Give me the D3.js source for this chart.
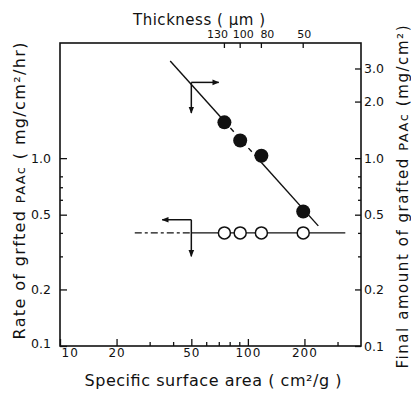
<!DOCTYPE html>
<html><head><meta charset="utf-8">
<script src="https://cdn.jsdelivr.net/npm/d3@7"></script>
<style>
html,body{margin:0;padding:0;background:#fff;}
text{font-family:"DejaVu Sans",sans-serif;fill:#111;}
</style></head>
<body>
<svg id="c" width="411" height="393"></svg>
<script>
// ---- data ----
const surfaceArea = [75, 91, 118, 197];          // cm2/g
const thickness   = [130, 100, 80, 50];          // um (top axis labels)
const finalAmount = [1.55, 1.24, 1.03, 0.52];    // mg/cm2 (filled, right axis)
const graftRate   = [0.40, 0.40, 0.40, 0.40];    // mg/cm2/hr (open, left axis)
const fitLine     = [[38.6, 3.29], [237, 0.436]];// regression through filled points
const rateLine    = [[25, 0.40], [330, 0.40]];   // horizontal line through open points
const xTicks      = [10, 20, 50, 100, 200];
const xMinor      = [30, 40, 60, 70, 80, 90, 300];
const yLeftTicks  = [0.1, 0.2, 0.5, 1.0];
const yRightTicks = [0.1, 0.2, 0.5, 1.0, 2.0, 3.0];
const yMinor      = [0.3, 0.4, 0.6, 0.7, 0.8];
const arrowFilled = {corner: [50, 2.53], right: 70, down: 1.74};
const arrowOpen   = {corner: [50, 0.47], left: 35, down: 0.30};

const svg = d3.select("#c");
const L = 60, R = 361, T = 43, B = 346;
const x = d3.scaleLog().domain([10, 400]).range([L, R]);
const y = d3.scaleLog().domain([0.1, 4.1]).range([B, T]);
const yR = d3.scaleLog().domain([0.1, 4.1]).range([B, T]);

const defs = svg.append("defs");
defs.append("marker").attr("id","ah").attr("viewBox","0 0 10 10")
  .attr("refX",9).attr("refY",5).attr("markerWidth",7).attr("markerHeight",7)
  .attr("markerUnits","userSpaceOnUse").attr("orient","auto")
  .append("path").attr("d","M0,1 L10,5 L0,9 Z").attr("fill","#111");

// frame
svg.append("rect").attr("x",L).attr("y",T).attr("width",R-L).attr("height",B-T)
  .attr("fill","none").attr("stroke","#111").attr("stroke-width",1.6);

// bottom axis (ticks inside)
const gB = svg.append("g").attr("transform",`translate(0,${B})`);
gB.call(d3.axisBottom(x).tickValues(xTicks).tickSizeInner(-7).tickSizeOuter(0).tickFormat(d3.format("d")));
gB.append("g").call(d3.axisBottom(x).tickValues(xMinor).tickSizeInner(-4).tickSizeOuter(0).tickFormat(""));
gB.selectAll(".domain").remove();
gB.selectAll("line").attr("stroke","#111").attr("stroke-width",1.3);
gB.selectAll("text").attr("font-size",12).attr("letter-spacing",1).attr("dy",0).attr("y",11);
gB.selectAll(".tick text").filter(d=>d===10).attr("text-anchor","start").attr("x",1);

// left axis
const gL = svg.append("g").attr("transform",`translate(${L},0)`);
gL.call(d3.axisLeft(y).tickValues(yLeftTicks).tickSizeInner(-7).tickSizeOuter(0).tickFormat(d3.format(".1f")));
gL.append("g").call(d3.axisLeft(y).tickValues(yMinor).tickSizeInner(-3).tickSizeOuter(0).tickFormat(""));
gL.selectAll(".domain").remove();
gL.selectAll("line").attr("stroke","#111").attr("stroke-width",1.3);
gL.selectAll("text").attr("font-size",12.5).attr("x",-9);
gL.selectAll(".tick text").filter(d=>d===0.1).attr("dy","0.1em");

// right axis
const gR = svg.append("g").attr("transform",`translate(${R},0)`);
gR.call(d3.axisRight(yR).tickValues(yRightTicks).tickSizeInner(-6).tickSizeOuter(0).tickFormat(d3.format(".1f")));
gR.append("g").call(d3.axisRight(yR).tickValues(yMinor).tickSizeInner(-3).tickSizeOuter(0).tickFormat(""));
gR.selectAll(".domain").remove();
gR.selectAll("line").attr("stroke","#111").attr("stroke-width",1.3);
gR.selectAll("text").attr("font-size",12.5).attr("x",3);

// top axis: thickness ticks at the surface areas of the samples
const gT = svg.append("g").attr("transform",`translate(0,${T})`);
const labelShift = [-7, 3, 6, 1];
gT.selectAll("line").data(surfaceArea).join("line")
  .attr("x1",d=>x(d)).attr("x2",d=>x(d)).attr("y1",0).attr("y2",5)
  .attr("stroke","#111").attr("stroke-width",1.3);
gT.selectAll("text").data(thickness).join("text")
  .attr("x",(d,i)=>x(surfaceArea[i])+labelShift[i]).attr("y",-5)
  .attr("text-anchor","middle").attr("font-size",11).text(d=>d);

// titles
svg.append("text").attr("x",199).attr("y",25).attr("text-anchor","middle")
  .attr("font-size",15).attr("textLength",132).attr("lengthAdjust","spacing")
  .text("Thickness ( \u00b5m )");
svg.append("text").attr("x",213).attr("y",386).attr("text-anchor","middle")
  .attr("font-size",16).attr("textLength",257).attr("lengthAdjust","spacing")
  .text("Specific surface area ( cm\u00b2/g )");
const lt = svg.append("text").attr("transform","translate(25,191) rotate(-90)")
  .attr("text-anchor","middle").attr("font-size",16).attr("textLength",297).attr("lengthAdjust","spacing");
lt.append("tspan").text("Rate  of  grfted  ");
lt.append("tspan").attr("font-size",13).text("PAAc");
lt.append("tspan").text("  ( mg/cm\u00b2/hr)");
const rt = svg.append("text").attr("transform","translate(408,197) rotate(-90)")
  .attr("text-anchor","middle").attr("font-size",15).attr("textLength",343).attr("lengthAdjust","spacing");
rt.append("tspan").text("Final  amount  of  grafted  ");
rt.append("tspan").attr("font-size",13).text("PAAc");
rt.append("tspan").text(" (mg/cm\u00b2)");

// helpers
const pt = d => [x(d[0]), y(d[1])];
function logInterp(a, b, sx){ // point on log-log line a-b at surface area sx
  const t = (Math.log10(sx)-Math.log10(a[0]))/(Math.log10(b[0])-Math.log10(a[0]));
  return [sx, Math.pow(10, Math.log10(a[1]) + t*(Math.log10(b[1])-Math.log10(a[1])))];
}
const line = d3.line().x(d=>x(d[0])).y(d=>yR(d[1]));

// fitted line: solid, dashed between 1st and 3rd samples, solid
const pA = logInterp(fitLine[0], fitLine[1], surfaceArea[0]);
const pC = logInterp(fitLine[0], fitLine[1], surfaceArea[2]);
svg.append("path").attr("d",line([fitLine[0], pA])).attr("stroke","#111").attr("stroke-width",1.4).attr("fill","none");
svg.append("path").attr("d",line([pA, pC])).attr("stroke","#111").attr("stroke-width",1.4).attr("fill","none").attr("stroke-dasharray","5,4");
svg.append("path").attr("d",line([pC, fitLine[1]])).attr("stroke","#111").attr("stroke-width",1.4).attr("fill","none");

// rate line: dashed at left end, then solid
const lineL = d3.line().x(d=>x(d[0])).y(d=>y(d[1]));
svg.append("path").attr("d",lineL([rateLine[0],[arrowOpen.corner[0], rateLine[0][1]]]))
  .attr("stroke","#111").attr("stroke-width",1.4).attr("fill","none").attr("stroke-dasharray","7,3,3,3");
svg.append("path").attr("d",lineL([[arrowOpen.corner[0], rateLine[0][1]], rateLine[1]]))
  .attr("stroke","#111").attr("stroke-width",1.4).attr("fill","none");

// arrows
function arrow(p1, p2){
  svg.append("line").attr("x1",p1[0]).attr("y1",p1[1]).attr("x2",p2[0]).attr("y2",p2[1])
    .attr("stroke","#111").attr("stroke-width",1.5).attr("marker-end","url(#ah)");
}
const cF = [x(arrowFilled.corner[0]), yR(arrowFilled.corner[1])];
arrow(cF, [x(arrowFilled.right), cF[1]]);
arrow(cF, [cF[0], yR(arrowFilled.down)]);
const cO = [x(arrowOpen.corner[0]), y(arrowOpen.corner[1])];
arrow(cO, [x(arrowOpen.left), cO[1]]);
arrow(cO, [cO[0], y(arrowOpen.down)]);

// points
svg.selectAll("circle.open").data(graftRate).join("circle").attr("class","open")
  .attr("cx",(d,i)=>x(surfaceArea[i])).attr("cy",d=>y(d)).attr("r",6)
  .attr("fill","#fff").attr("stroke","#111").attr("stroke-width",1.5);
svg.selectAll("circle.filled").data(finalAmount).join("circle").attr("class","filled")
  .attr("cx",(d,i)=>x(surfaceArea[i])).attr("cy",d=>yR(d)).attr("r",7)
  .attr("fill","#111");
</script>
</body></html>
